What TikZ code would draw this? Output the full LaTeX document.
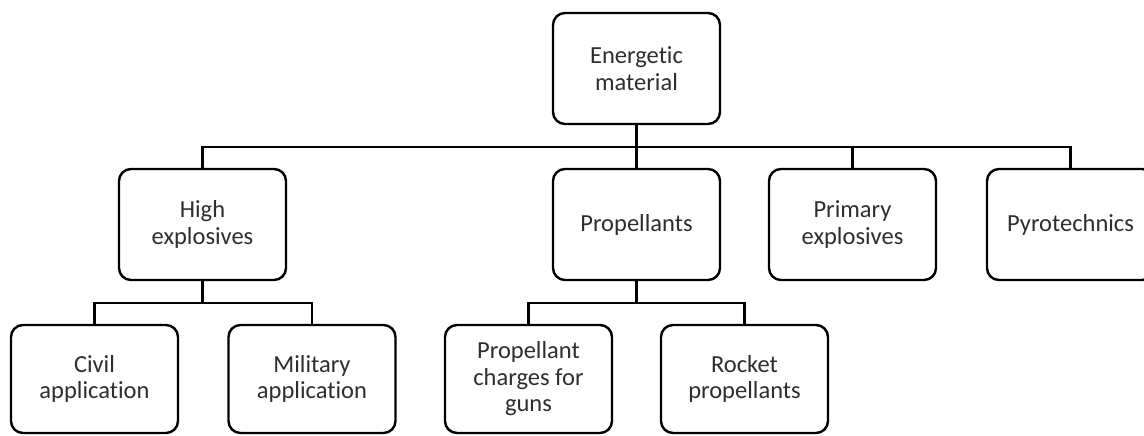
\documentclass[tikz,border=0pt]{standalone}
\usepackage{fontspec}
\setmainfont{Carlito}[Ligatures=NoCommon]
\begin{document}
\begin{tikzpicture}[x=1pt,y=-1pt,
  box/.style={draw=black, line width=2.4pt, rounded corners=12pt, fill=white,
    minimum width=167pt, align=center, text=black!82,
    font=\fontsize{24.5}{26.5}\selectfont, inner sep=0pt},
  toprow/.style={box, minimum height=111pt},
  lowrow/.style={box, minimum height=108pt},
  link/.style={draw=black, line width=2.4pt}]
  \path[use as bounding box, clip] (0,0) rectangle (1144,436);

  % root
  \node[toprow] (em) at (636.5,68.5) {Energetic\\material};

  % first level
  \node[toprow] (he) at (202.5,224.5) {High\\explosives};
  \node[toprow] (pr) at (636.5,224.5) {Propellants};
  \node[toprow] (pe) at (852.5,224.5) {Primary\\explosives};
  \node[toprow] (py) at (1070.5,224.5) {Pyrotechnics};

  % second level
  \node[lowrow] (ca) at (94.5,379) {Civil\\application};
  \node[lowrow] (ma) at (312,379) {Military\\application};
  \node[lowrow] (pc) at (528.5,379) {Propellant\\charges for\\guns};
  \node[lowrow] (rp) at (744.5,379) {Rocket\\propellants};

  % bus lines
  \coordinate (bus1) at (636.5,147);
  \coordinate (bus2) at (202.5,303);
  \coordinate (bus3) at (636.5,303);

  \draw[link] (em.south) -- (pr.north);
  \draw[link] (he.north) |- (bus1) -| (py.north);
  \draw[link] (pe.north) -- (pe.north |- bus1);

  \draw[link] (he.south) -- (bus2);
  \draw[link] (ca.north) |- (bus2) -| (ma.north);

  \draw[link] (pr.south) -- (bus3);
  \draw[link] (pc.north) |- (bus3) -| (rp.north);
\end{tikzpicture}
\end{document}
